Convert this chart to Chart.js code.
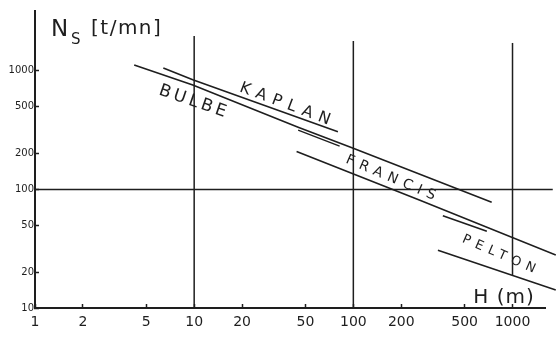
<!DOCTYPE html>
<html><head><meta charset="utf-8">
<script src="https://cdn.jsdelivr.net/npm/chart.js@4.4.1/dist/chart.umd.min.js"></script>
<style>html,body{margin:0;padding:0;background:#fff;}#wrap{width:556px;height:337px;position:relative;}</style>
</head><body><div id="wrap"><canvas id="c"></canvas></div>
<script>
// ---- tick values ----
const xTicks = [1, 2, 5, 10, 20, 50, 100, 200, 500, 1000];
const yTicks = [10, 20, 50, 100, 200, 500, 1000];

// ---- series: H (m) and Ns (t/mn) ----
const bulbeH = [4.2, 9.8, 45, 98, 740];
const bulbeN = [1120, 760, 335, 225, 78];
const kaplanH = [6.4, 9.8, 80];
const kaplanN = [1060, 840, 307];
const kaplanEndH = [45, 82];
const kaplanEndN = [316, 232];
const francisH = [44, 262, 1870];
const francisN = [209, 81, 28];
const peltonEndH = [365, 690];
const peltonEndN = [60, 44.5];
const peltonH = [340, 1870];
const peltonN = [30.7, 14.2];

// ---- reference lines ----
const vLineH = [10, 100, 1000];
const vLineTopN = [1970, 1790, 1720];
const vLineBottomN = [10, 10, 19];
const hLineN = 100;
const hLineH = [1, 1790];

// ---- region labels ----
const regionLabels = ['BULBE', 'KAPLAN', 'FRANCIS', 'PELTON'];
const regionLabelH = [9.76, 37.2, 171.5, 821];
const regionLabelN = [552, 525, 125, 28.4];

// styles (not data)
const INK = '#1e1e1e';
const labelStyle = [
  {size: 17, spacing: 3.5, angle: 19},
  {size: 16, spacing: 6.5, angle: 20.5},
  {size: 14, spacing: 6, angle: 23},
  {size: 13, spacing: 5.8, angle: 23.5}
];

function pts(hs, ns) { return hs.map((h, i) => ({x: h, y: ns[i]})); }
function lineDs(data, w) {
  return {data, showLine: true, borderColor: INK, borderWidth: w || 1.6, pointRadius: 0, clip: false, tension: 0};
}

const datasets = [
  lineDs(pts(bulbeH, bulbeN)),
  lineDs(pts(kaplanH, kaplanN)),
  lineDs(pts(kaplanEndH, kaplanEndN), 1.4),
  lineDs(pts(francisH, francisN)),
  lineDs(pts(peltonEndH, peltonEndN), 1.6),
  lineDs(pts(peltonH, peltonN)),
  lineDs(pts(hLineH, [hLineN, hLineN]), 1.5)
];
vLineH.forEach((h, i) => datasets.push(lineDs([{x: h, y: vLineBottomN[i]}, {x: h, y: vLineTopN[i]}], 1.5)));

const textPlugin = {
  id: 'texts',
  afterDatasetsDraw(chart) {
    const {ctx, scales: {x, y}, chartArea: a} = chart;
    ctx.save();
    ctx.fillStyle = INK;
    regionLabels.forEach((t, i) => {
      const st = labelStyle[i];
      const px = x.getPixelForValue(regionLabelH[i]);
      const py = y.getPixelForValue(regionLabelN[i]);
      ctx.save();
      ctx.translate(px, py);
      ctx.rotate(st.angle * Math.PI / 180);
      ctx.font = st.size + 'px "DejaVu Sans"';
      ctx.letterSpacing = st.spacing + 'px';
      ctx.textAlign = 'center';
      ctx.textBaseline = 'middle';
      ctx.fillText(t, st.spacing / 2, 0);
      ctx.restore();
    });
    // axis titles
    ctx.textBaseline = 'alphabetic';
    ctx.textAlign = 'left';
    ctx.letterSpacing = '0px';
    ctx.font = '23px "DejaVu Sans"';
    ctx.fillText('N', a.left + 16, a.top + 25);
    ctx.font = '15px "DejaVu Sans"';
    ctx.fillText('S', a.left + 36, a.top + 33);
    ctx.font = '20px "DejaVu Sans"';
    ctx.letterSpacing = '1.5px';
    ctx.fillText('[t/mn]', a.left + 56, a.top + 23);
    ctx.font = '20px "DejaVu Sans"';
    ctx.letterSpacing = '1px';
    ctx.textAlign = 'center';
    ctx.fillText('H (m)', a.right - 41, a.bottom - 5);
    ctx.restore();
  }
};

new Chart(document.getElementById('c'), {
  type: 'scatter',
  data: {datasets},
  options: {
    responsive: true,
    maintainAspectRatio: false,
    animation: false,
    events: [],
    layout: {padding: {top: 10, right: 11, left: 0, bottom: 0}},
    plugins: {legend: {display: false}, tooltip: {enabled: false}, title: {display: false}},
    scales: {
      x: {
        type: 'logarithmic', min: 1, max: 1600, position: 'bottom',
        afterBuildTicks: s => { s.ticks = xTicks.map(v => ({value: v})); },
        afterFit: s => { s.height = 29; },
        grid: {drawOnChartArea: false, drawTicks: true, tickLength: -4, tickColor: INK, tickWidth: 1.5},
        border: {display: true, color: INK, width: 2},
        ticks: {autoSkip: false, maxRotation: 0, padding: 10, color: INK,
          font: {family: 'DejaVu Sans', size: 14}, callback: v => String(v)}
      },
      y: {
        type: 'logarithmic', min: 10, max: 3200,
        afterBuildTicks: s => { s.ticks = yTicks.map(v => ({value: v})); },
        afterFit: s => { s.width = 35; },
        grid: {drawOnChartArea: false, drawTicks: true, tickLength: -4, tickColor: INK, tickWidth: 1.5},
        border: {display: true, color: INK, width: 2},
        ticks: {autoSkip: false, padding: 5, color: INK,
          font: {family: 'DejaVu Sans', size: 10}, callback: v => String(v)}
      }
    }
  },
  plugins: [textPlugin]
});
</script>
</body></html>
